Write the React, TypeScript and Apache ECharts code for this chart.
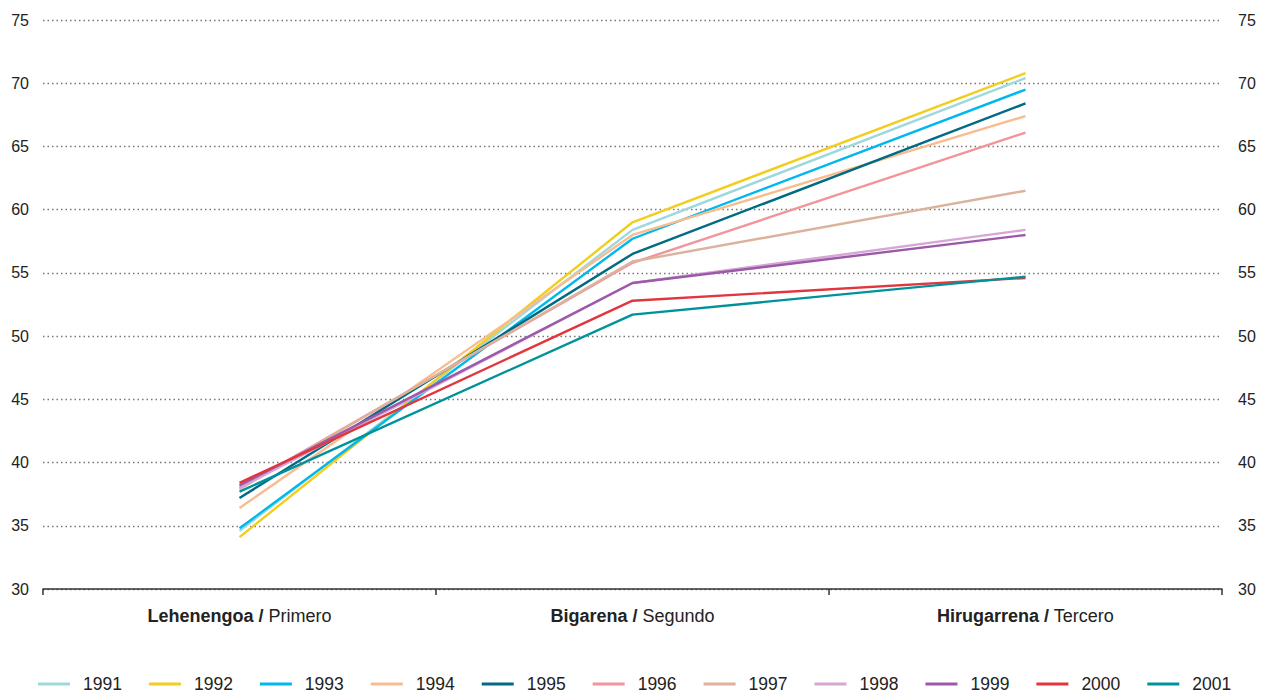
import React, { useEffect, useRef } from "react";
import * as echarts from "echarts";

const categories = ["Lehenengoa / Primero", "Bigarena / Segundo", "Hirugarrena / Tercero"];
const years = ["1991", "1992", "1993", "1994", "1995", "1996", "1997", "1998", "1999", "2000", "2001"];
const colors = ["#9ED8DC", "#F2CD1D", "#00B8EE", "#F9BC8F", "#006B82", "#F3939C", "#DDB29D", "#D6A6D4", "#9B59AA", "#E2363E", "#00929B"];

const v1991 = [34.6, 58.4, 70.4];
const v1992 = [34.1, 59.0, 70.8];
const v1993 = [34.8, 57.7, 69.5];
const v1994 = [36.4, 58.0, 67.4];
const v1995 = [37.2, 56.5, 68.4];
const v1996 = [38.0, 55.8, 66.1];
const v1997 = [37.9, 55.9, 61.5];
const v1998 = [38.0, 54.2, 58.4];
const v1999 = [38.2, 54.2, 58.0];
const v2000 = [38.4, 52.8, 54.6];
const v2001 = [37.7, 51.7, 54.7];

const seriesValues = [v1991, v1992, v1993, v1994, v1995, v1996, v1997, v1998, v1999, v2000, v2001];

const yMin = 30;
const yMax = 75;
const yStep = 5;

export default function App() {
  const ref = useRef<HTMLDivElement>(null);
  useEffect(() => {
    if (!ref.current) return;
    const chart = echarts.init(ref.current, null, { renderer: "svg" });
    const font = "'Liberation Sans', Arial, sans-serif";
    const yLabel = { fontSize: 16, color: "#222", fontFamily: font };
    chart.setOption({
      animation: false,
      backgroundColor: "#fff",
      grid: { left: 43, right: 45, top: 20, bottom: 104, containLabel: false },
      legend: {
        left: 33,
        top: 670,
        itemWidth: 32,
        itemHeight: 3,
        itemGap: 27,
        icon: "rect",
        textStyle: { fontSize: 17.5, color: "#222", fontFamily: font, padding: [0, 0, 0, 8] },
        data: years,
      },
      xAxis: {
        type: "category",
        data: categories,
        boundaryGap: true,
        axisLine: { lineStyle: { color: "#333", width: 1.5 } },
        axisTick: { show: true, length: 6, lineStyle: { color: "#333", width: 1.5 } },
        axisLabel: {
          margin: 18,
          fontFamily: font,
          fontSize: 18,
          color: "#222",
          formatter: (val: string) => {
            const parts = val.split(" / ");
            return "{b|" + parts[0] + " /} " + parts[1];
          },
          rich: { b: { fontWeight: "bold", fontSize: 18, color: "#222", fontFamily: font } },
        },
        splitLine: { show: false },
      },
      yAxis: [
        {
          type: "value",
          min: yMin,
          max: yMax,
          interval: yStep,
          position: "left",
          axisLine: { show: false },
          axisTick: { show: false },
          axisLabel: { ...yLabel, margin: 14 },
          splitLine: { show: true, lineStyle: { color: "#777", width: 1.3, type: [1.5, 3] } },
        },
        {
          type: "value",
          min: yMin,
          max: yMax,
          interval: yStep,
          position: "right",
          axisLine: { show: false },
          axisTick: { show: false },
          axisLabel: { ...yLabel, margin: 16 },
          splitLine: { show: false },
        },
      ],
      series: years.map((y, i) => ({
        name: y,
        type: "line",
        data: seriesValues[i],
        symbol: "none",
        color: colors[i],
        lineStyle: { width: 2.4, color: colors[i] },
      })),
    });
    return () => chart.dispose();
  }, []);
  return <div ref={ref} style={{ position: "fixed", left: 0, top: 0, width: 1267, height: 693 }} />;
}
